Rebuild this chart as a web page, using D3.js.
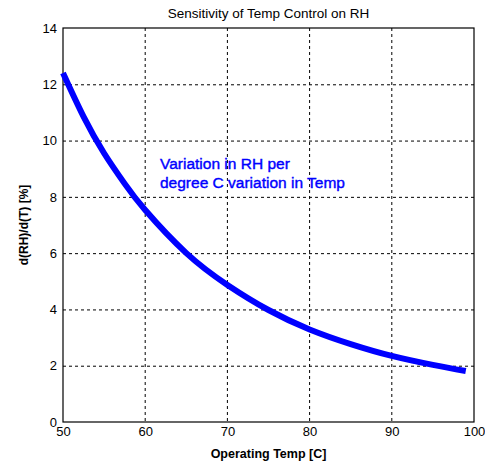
<!DOCTYPE html>
<html>
<head>
<meta charset="utf-8">
<script src="https://cdn.jsdelivr.net/npm/d3@7"></script>
<style>
  body { margin: 0; background: #fff; }
  text { font-family: "Liberation Sans", Arial, sans-serif; }
</style>
</head>
<body>
<script>
// values
const temps = [50, 52.5, 55, 57.5, 60, 65, 70, 75, 80, 85, 90, 95, 99];
const dRH = [12.4, 10.85, 9.55, 8.47, 7.53, 6.0, 4.87, 3.98, 3.29, 2.77, 2.35, 2.03, 1.81];
const xTicks = [50, 60, 70, 80, 90, 100];
const yTicks = [0, 2, 4, 6, 8, 10, 12, 14];

const W = 485, H = 465;
const m = { left: 63, right: 474, top: 28, bottom: 422 };

const svg = d3.select('body').append('svg')
  .attr('width', W)
  .attr('height', H);

const x = d3.scaleLinear().domain([50, 100]).range([m.left, m.right]);
const y = d3.scaleLinear().domain([0, 14]).range([m.bottom, m.top]);

// dotted grid
svg.append('g')
  .selectAll('line')
  .data(xTicks.slice(1, -1))
  .join('line')
  .attr('x1', d => x(d)).attr('x2', d => x(d))
  .attr('y1', m.top).attr('y2', m.bottom)
  .attr('stroke', '#000').attr('stroke-dasharray', '3,3');

svg.append('g')
  .selectAll('line')
  .data(yTicks.slice(1, -1))
  .join('line')
  .attr('x1', m.left).attr('x2', m.right)
  .attr('y1', d => y(d) + 0.5).attr('y2', d => y(d) + 0.5)
  .attr('stroke', '#000').attr('stroke-dasharray', '3,3');

// axes
const xAxis = svg.append('g')
  .attr('transform', `translate(0,${m.bottom})`)
  .call(d3.axisBottom(x).tickValues(xTicks).tickSize(0).tickPadding(5));
const yAxis = svg.append('g')
  .attr('transform', `translate(${m.left},0)`)
  .call(d3.axisLeft(y).tickValues(yTicks).tickSize(0).tickPadding(6));

[xAxis, yAxis].forEach(g => {
  g.select('.domain').remove();
  g.selectAll('text').attr('font-size', 13).attr('fill', '#000')
    .style('font-family', '"Liberation Sans", Arial, sans-serif');
});

// box
svg.append('rect')
  .attr('x', m.left).attr('y', m.top)
  .attr('width', m.right - m.left).attr('height', m.bottom - m.top)
  .attr('fill', 'none').attr('stroke', '#000').attr('stroke-width', 1.2);

// curve
const line = d3.line()
  .x((d, i) => x(temps[i]))
  .y(d => y(d))
  .curve(d3.curveNatural);

svg.append('path')
  .datum(dRH)
  .attr('d', line)
  .attr('fill', 'none')
  .attr('stroke', '#0000ff')
  .attr('stroke-width', 6);

// annotation
const note = svg.append('text')
  .attr('x', 160).attr('y', 169)
  .attr('fill', '#0000ff')
  .attr('stroke', '#0000ff')
  .attr('stroke-width', 0.4)
  .attr('font-size', 15.5);
note.append('tspan').attr('x', 160).text('Variation in RH per');
note.append('tspan').attr('x', 160).attr('dy', 19).text('degree C variation in Temp');

// titles
svg.append('text')
  .attr('x', (m.left + m.right) / 2).attr('y', 18)
  .attr('text-anchor', 'middle')
  .attr('font-size', 13.5)
  .text('Sensitivity of Temp Control on RH');

svg.append('text')
  .attr('x', (m.left + m.right) / 2).attr('y', 458)
  .attr('text-anchor', 'middle')
  .attr('font-size', 12.5)
  .attr('font-weight', 'bold')
  .text('Operating Temp [C]');

svg.append('text')
  .attr('transform', `translate(28,${(m.top + m.bottom) / 2}) rotate(-90)`)
  .attr('text-anchor', 'middle')
  .attr('font-size', 12)
  .attr('font-weight', 'bold')
  .text('d(RH)/d(T) [%]');
</script>
</body>
</html>
